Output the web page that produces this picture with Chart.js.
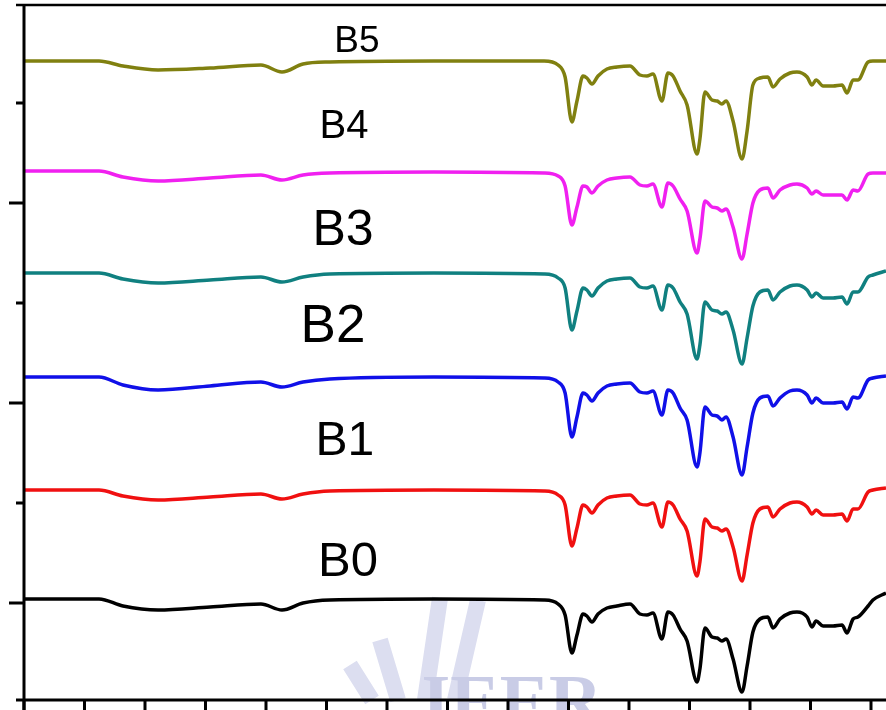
<!DOCTYPE html>
<html>
<head>
<meta charset="utf-8">
<script src="https://cdn.jsdelivr.net/npm/chart.js@4"></script>
<style>
  html, body { margin: 0; padding: 0; background: #fff; }
  canvas { display: block; }
</style>
</head>
<body>
<canvas id="ftir" width="886" height="710"></canvas>
<script>
// wavenumber (cm-1), high -> low
const wavenumbers = [3996, 3690, 3591, 3446, 3231, 3021, 2934, 2847, 2736, 2306,
  1851, 1793, 1764, 1736, 1715, 1690, 1674, 1653, 1628, 1591,
  1550, 1496, 1455, 1426, 1401, 1364, 1339, 1318, 1289, 1260,
  1219, 1207, 1186, 1157, 1136, 1116, 1099, 1070, 1033, 1012,
  988, 959, 926, 905, 876, 835, 806, 764, 744, 727,
  698, 657, 620, 599, 574, 554, 512, 492, 438];

// stacked transmittance traces (offset units)
const b5 = [5.42, 5.42, 5.37, 5.33, 5.35, 5.38, 5.31, 5.39, 5.41, 5.42,
  5.42, 5.38, 5.26, 4.81, 5.02, 5.27, 5.25, 5.19, 5.27, 5.34,
  5.36, 5.37, 5.28, 5.27, 5.29, 5.02, 5.30, 5.27, 5.12, 4.98,
  4.49, 4.64, 5.11, 5.03, 5.02, 4.99, 5.02, 4.82, 4.44, 4.72,
  5.18, 5.25, 5.26, 5.16, 5.24, 5.30, 5.31, 5.26, 5.18, 5.23,
  5.17, 5.17, 5.18, 5.10, 5.23, 5.23, 5.41, 5.42, 5.42];
const b4 = [4.32, 4.32, 4.26, 4.22, 4.25, 4.28, 4.23, 4.28, 4.30, 4.31,
  4.30, 4.27, 4.17, 3.78, 3.96, 4.17, 4.16, 4.10, 4.17, 4.23,
  4.25, 4.26, 4.18, 4.17, 4.19, 3.96, 4.20, 4.17, 4.04, 3.92,
  3.50, 3.64, 4.02, 3.96, 3.95, 3.92, 3.94, 3.76, 3.44, 3.69,
  4.00, 4.13, 4.15, 4.05, 4.13, 4.18, 4.19, 4.15, 4.09, 4.12,
  4.08, 4.08, 4.08, 4.03, 4.13, 4.12, 4.29, 4.30, 4.30];
const b3 = [3.30, 3.30, 3.24, 3.20, 3.23, 3.26, 3.21, 3.26, 3.29, 3.30,
  3.29, 3.25, 3.15, 2.73, 2.92, 3.15, 3.13, 3.07, 3.15, 3.22,
  3.24, 3.25, 3.16, 3.15, 3.17, 2.93, 3.18, 3.15, 3.01, 2.89,
  2.44, 2.58, 3.01, 2.93, 2.92, 2.89, 2.91, 2.73, 2.39, 2.65,
  2.97, 3.11, 3.13, 3.03, 3.11, 3.17, 3.18, 3.13, 3.06, 3.10,
  3.05, 3.05, 3.06, 2.99, 3.11, 3.11, 3.26, 3.28, 3.32];
const b2 = [2.26, 2.26, 2.18, 2.13, 2.17, 2.21, 2.16, 2.21, 2.24, 2.26,
  2.25, 2.21, 2.10, 1.66, 1.86, 2.10, 2.08, 2.02, 2.10, 2.17,
  2.19, 2.20, 2.11, 2.10, 2.12, 1.88, 2.13, 2.10, 1.95, 1.83,
  1.36, 1.50, 1.96, 1.88, 1.87, 1.83, 1.86, 1.66, 1.28, 1.56,
  1.90, 2.05, 2.07, 1.97, 2.05, 2.12, 2.13, 2.08, 2.00, 2.05,
  2.00, 2.00, 2.01, 1.94, 2.06, 2.05, 2.23, 2.25, 2.27];
const b1 = [1.13, 1.13, 1.07, 1.03, 1.06, 1.09, 1.04, 1.09, 1.12, 1.13,
  1.12, 1.08, 0.98, 0.57, 0.75, 0.98, 0.96, 0.90, 0.98, 1.05,
  1.07, 1.08, 0.99, 0.98, 1.00, 0.76, 1.01, 0.98, 0.84, 0.72,
  0.27, 0.41, 0.84, 0.76, 0.75, 0.72, 0.74, 0.56, 0.22, 0.48,
  0.80, 0.94, 0.96, 0.86, 0.94, 1.00, 1.01, 0.96, 0.89, 0.93,
  0.88, 0.88, 0.89, 0.82, 0.94, 0.94, 1.11, 1.13, 1.15];
const b0 = [0.04, 0.04, -0.03, -0.07, -0.04, -0.01, -0.07, 0.00, 0.03, 0.04,
  0.03, -0.01, -0.12, -0.50, -0.32, -0.11, -0.13, -0.19, -0.11, -0.05,
  -0.03, -0.01, -0.11, -0.12, -0.10, -0.36, -0.09, -0.12, -0.26, -0.38,
  -0.79, -0.66, -0.25, -0.34, -0.35, -0.38, -0.36, -0.56, -0.89, -0.63,
  -0.29, -0.16, -0.14, -0.25, -0.16, -0.10, -0.09, -0.14, -0.24, -0.18,
  -0.23, -0.23, -0.22, -0.30, -0.16, -0.14, -0.03, 0.03, 0.10];

const seriesNames = ['B5', 'B4', 'B3', 'B2', 'B1', 'B0'];
const seriesData = [b5, b4, b3, b2, b1, b0];
const seriesColors = ['#808010', '#f020f0', '#108080', '#1010e8', '#f01010', '#000000'];

// sample labels, placed in data units
const labelText = ['B5', 'B4', 'B3', 'B2', 'B1', 'B0'];
const labelX = [2624, 2678, 2682, 2723, 2674, 2661];
const labelY = [5.61, 4.76, 3.72, 2.76, 1.61, 0.41];
const labelSize = [37, 40, 50, 53, 48, 49];

const xMajor = [4000, 3500, 3000, 2500, 2000, 1500, 1000, 500];
const xMinor = [3750, 3250, 2750, 2250, 1750, 1250, 750];
const yMajor = [0, 2, 4];
const yMinor = [1, 3, 5];

// watermark + frame + ticks + labels
const decorPlugin = {
  id: 'decor',
  beforeDatasetsDraw(chart) {
    const ctx = chart.ctx;
    ctx.save();
    // faint wheat-like stripes of the watermark
    ctx.strokeStyle = '#dcdef0';
    ctx.lineWidth = 16;
    ctx.beginPath();
    ctx.moveTo(425, 700); ctx.lineTo(440, 598);
    ctx.moveTo(455, 700); ctx.lineTo(478, 600);
    ctx.moveTo(398, 700); ctx.lineTo(380, 640);
    ctx.moveTo(372, 700); ctx.lineTo(350, 665);
    ctx.stroke();
    ctx.fillStyle = '#c9cce6';
    ctx.font = 'bold 74px "Liberation Serif", "DejaVu Serif", serif';
    ctx.textAlign = 'center';
    ctx.textBaseline = 'top';
    ctx.fillText('IEER', 512, 670);
    ctx.restore();
  },
  afterDatasetsDraw(chart) {
    const ctx = chart.ctx;
    const a = chart.chartArea;
    const xs = chart.scales.x, ys = chart.scales.y;
    ctx.save();
    ctx.strokeStyle = '#000';
    ctx.lineCap = 'butt';
    // frame
    ctx.lineWidth = 3;
    ctx.beginPath();
    ctx.moveTo(a.left, a.top);
    ctx.lineTo(a.left, 710);
    ctx.moveTo(a.left - 8, a.bottom);
    ctx.lineTo(a.right, a.bottom);
    ctx.stroke();
    ctx.lineWidth = 2.5;
    ctx.beginPath();
    ctx.moveTo(16, a.top);
    ctx.lineTo(a.right, a.top);
    ctx.stroke();
    // ticks
    ctx.lineWidth = 3;
    ctx.beginPath();
    xMajor.concat(xMinor).forEach(v => {
      const px = xs.getPixelForValue(v);
      ctx.moveTo(px, a.bottom);
      ctx.lineTo(px, a.bottom + 10);
    });
    yMajor.forEach(v => {
      const py = ys.getPixelForValue(v);
      ctx.moveTo(a.left, py);
      ctx.lineTo(a.left - 15, py);
    });
    yMinor.forEach(v => {
      const py = ys.getPixelForValue(v);
      ctx.moveTo(a.left, py);
      ctx.lineTo(a.left - 8, py);
    });
    ctx.stroke();
    // labels
    ctx.fillStyle = '#000';
    ctx.textAlign = 'center';
    ctx.textBaseline = 'middle';
    labelText.forEach((t, i) => {
      ctx.font = labelSize[i] + 'px "Liberation Sans", Arial, sans-serif';
      ctx.fillText(t, xs.getPixelForValue(labelX[i]), ys.getPixelForValue(labelY[i]));
    });
    ctx.restore();
  }
};

new Chart(document.getElementById('ftir'), {
  type: 'line',
  data: {
    datasets: seriesNames.map((name, i) => ({
      label: name,
      data: wavenumbers.map((w, j) => ({ x: w, y: seriesData[i][j] })),
      borderColor: seriesColors[i],
      borderWidth: 3.5,
      pointRadius: 0,
      fill: false,
      cubicInterpolationMode: 'monotone'
    }))
  },
  options: {
    responsive: false,
    animation: false,
    devicePixelRatio: 1,
    layout: { padding: { left: 24, top: 5, right: 0, bottom: 10 } },
    plugins: { legend: { display: false }, tooltip: { enabled: false } },
    scales: {
      x: { type: 'linear', reverse: true, min: 438, max: 4000, display: false },
      y: { type: 'linear', min: -0.97, max: 5.98, display: false }
    }
  },
  plugins: [decorPlugin]
});
</script>
</body>
</html>
